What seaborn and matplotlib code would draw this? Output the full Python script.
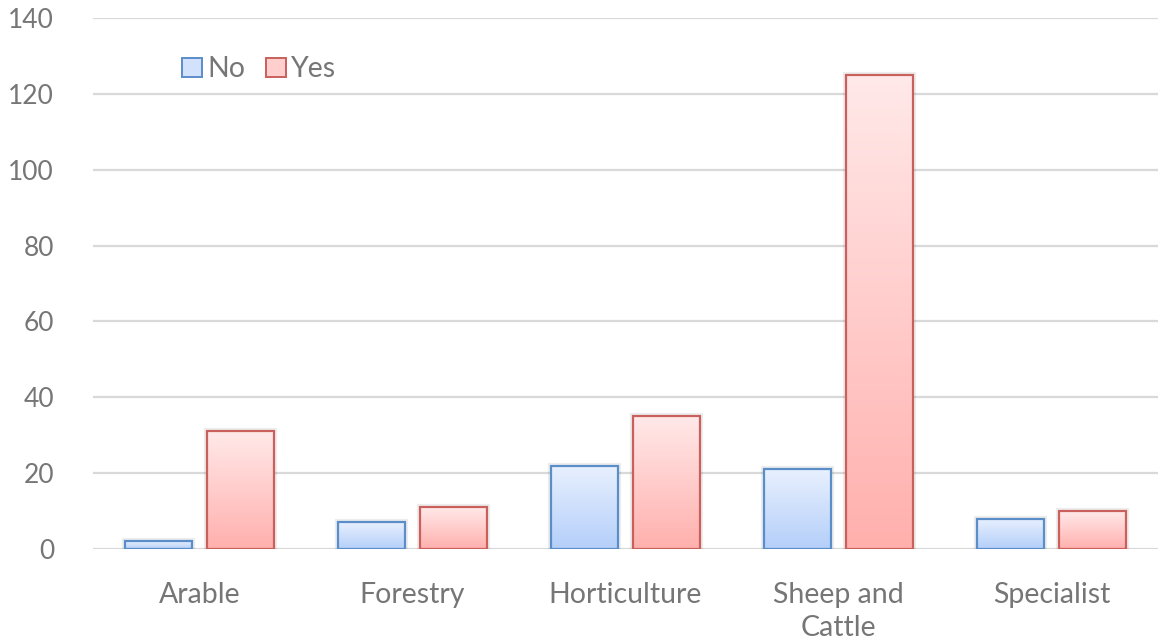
import numpy as np
import pandas as pd
import matplotlib
matplotlib.use("Agg")
import matplotlib.pyplot as plt
from matplotlib.patches import Patch, Rectangle
from matplotlib.colors import LinearSegmentedColormap
import seaborn as sns

categories = ["Arable", "Forestry", "Horticulture", "Sheep and\nCattle", "Specialist"]
no_values = [2, 7, 22, 21, 8]
yes_values = [31, 11, 35, 125, 10]
series = ["No", "Yes"]

edge_colors = {"No": "#5B8DC9", "Yes": "#C9605C"}
grad_colors = {"No": ("#E8F0FE", "#B4CFFA"), "Yes": ("#FFE9E9", "#FFB0AD")}
legend_fill = {"No": "#D3E2FC", "Yes": "#FFCFCE"}

df = pd.DataFrame({
    "category": categories * 2,
    "answer": ["No"] * len(categories) + ["Yes"] * len(categories),
    "count": no_values + yes_values,
})

sns.set_theme(style="white")
plt.rcParams["font.family"] = ["Lato", "DejaVu Sans"]
text_color = "#767676"
fs = 20.5

fig = plt.figure(figsize=(11.59, 6.42), dpi=100)
ax = fig.add_axes([93 / 1159, 93 / 642, 1065 / 1159, 531 / 642])

sns.barplot(data=df, x="category", y="count", hue="answer", order=categories,
            hue_order=series, palette=legend_fill, width=0.77, gap=0.195,
            legend=False, ax=ax, zorder=3)

ax.set_ylim(0, 140)
ax.set_xlim(-0.5, len(categories) - 0.5)
ax.set_yticks(np.arange(0, 141, 20))
ax.yaxis.grid(True, color="#D9D9D9", linewidth=1.6, zorder=0)
ax.set_axisbelow(True)
for s in ax.spines.values():
    s.set_visible(False)
ax.set_xlabel("")
ax.set_ylabel("")
ax.tick_params(axis="both", length=0, colors=text_color)
ax.tick_params(axis="x", labelsize=fs, pad=24)
ax.tick_params(axis="y", labelsize=19, pad=28)
for lbl in ax.get_xticklabels():
    lbl.set_linespacing(1.3)

# vertical gradient fill clipped to each bar, with a soft shadow behind it
n = len(categories)
for i, patch in enumerate(ax.patches[: 2 * n]):
    key = series[i // n]
    top_c, bot_c = grad_colors[key]
    cmap = LinearSegmentedColormap.from_list(key, [bot_c, top_c])
    x0, y0 = patch.get_x(), patch.get_y()
    w, h = patch.get_width(), patch.get_height()
    shadow = Rectangle((x0, y0), w, h, facecolor="none", edgecolor="#000000",
                       linewidth=4.5, alpha=0.07, zorder=3.2)
    ax.add_patch(shadow)
    grad = np.linspace(0, 1, 256).reshape(-1, 1)
    im = ax.imshow(grad, cmap=cmap, origin="lower", aspect="auto",
                   extent=[x0, x0 + w, y0, y0 + h], zorder=3.5)
    im.set_clip_path(patch)
    patch.set_facecolor("none")
    patch.set_edgecolor(edge_colors[key])
    patch.set_linewidth(1.6)
    patch.set_zorder(4)

ax.set_xlim(-0.5, len(categories) - 0.5)
ax.set_ylim(0, 140)

handles = [Patch(facecolor=legend_fill[k], edgecolor=edge_colors[k], linewidth=1.4, label=k)
           for k in series]
leg = ax.legend(handles=handles, loc="upper left", bbox_to_anchor=(0.073, 0.949), ncol=2,
                frameon=False, fontsize=fs, handlelength=0.7, handleheight=0.7,
                handletextpad=0.2, columnspacing=0.7, borderaxespad=0)
for t in leg.get_texts():
    t.set_color(text_color)

fig.savefig("out.png", dpi=100)
